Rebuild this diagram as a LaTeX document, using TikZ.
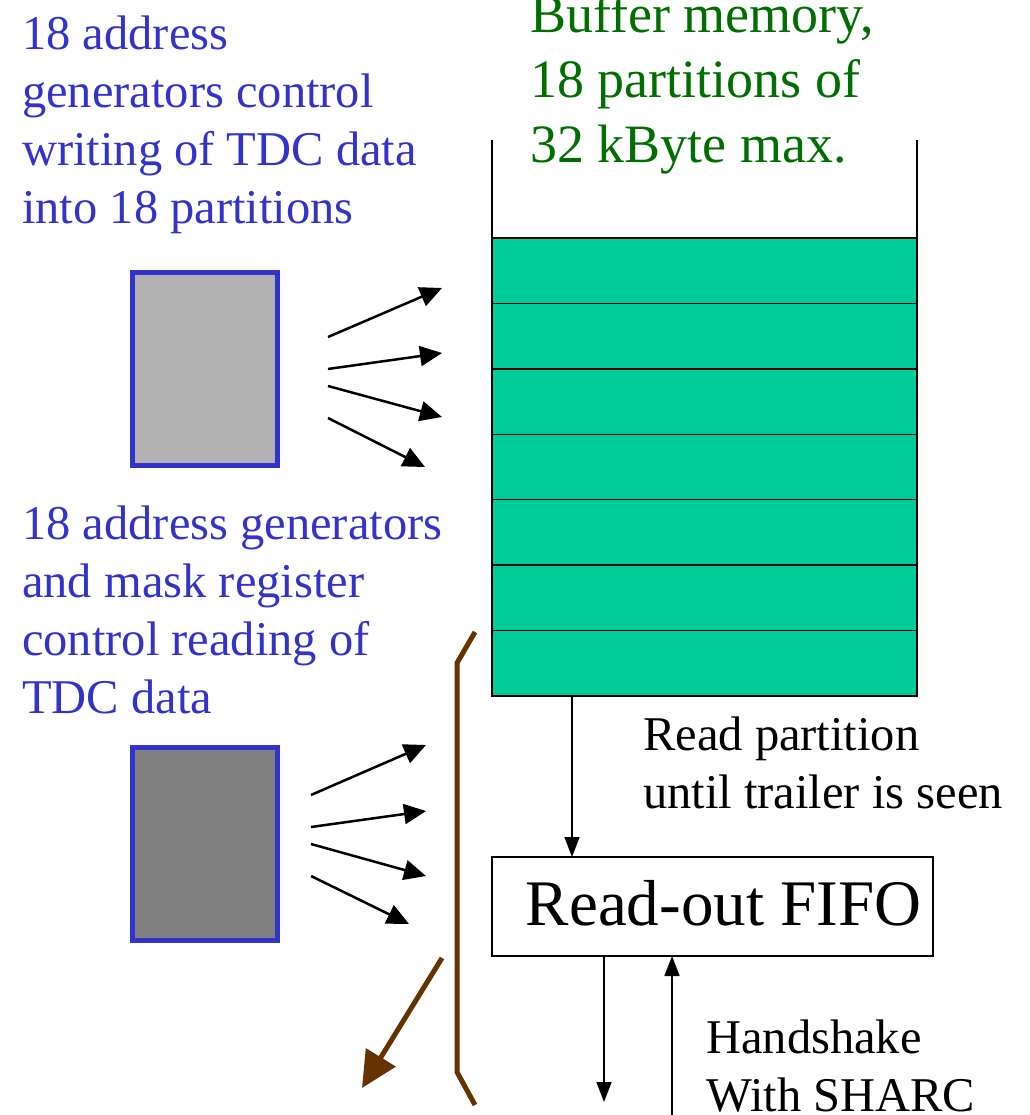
\documentclass[tikz,border=0pt]{standalone}
\usepackage{fontspec}
\setmainfont{Liberation Serif}
\usetikzlibrary{arrows.meta,calc}
\definecolor{labelblue}{RGB}{51,51,204}
\definecolor{memgreen}{RGB}{0,204,153}
\definecolor{titlegreen}{RGB}{0,110,0}
\definecolor{busbrown}{RGB}{102,51,0}
\definecolor{lightgen}{RGB}{178,178,178}
\definecolor{darkgen}{RGB}{128,128,128}
\begin{document}
\begin{tikzpicture}[x=1pt,y=-1pt,
  % multi-line texts are anchored at the baseline of their last line
  bodytext/.style={anchor=base west,inner sep=0pt,align=left,font=\fontsize{48.5}{58}\selectfont},
  genbox/.style={draw=labelblue,line width=5pt,minimum width=145pt,minimum height=193pt,inner sep=0pt,outer sep=0pt,anchor=north west},
  partition/.style={draw=black,line width=1.5pt,fill=memgreen,minimum width=425pt,minimum height=65.43pt,inner sep=0pt,outer sep=0pt,anchor=north west},
  fan/.style={line width=2.5pt,-{Triangle[length=22pt,width=20pt]}},
  flow/.style={line width=1.6pt,-{Triangle[length=20pt,width=15pt]}},
  bus/.style={busbrown,line width=5pt}]
\useasboundingbox (0,0) rectangle (1029,1115);

% text blocks
\node[bodytext,text=labelblue] (wtext) at (22,224) {18 address\\generators control\\writing of TDC data\\into 18 partitions};
\node[bodytext,text=labelblue] (rtext) at (22,713) {18 address generators\\and mask register\\control reading of\\TDC data};
\node[anchor=base west,inner sep=0pt,align=left,text=titlegreen,font=\fontsize{54}{65}\selectfont] (mtext) at (530,163) {Buffer memory,\\18 partitions of\\32 kByte max.};
\node[bodytext] (rptext) at (643,808) {Read partition\\until trailer is seen};
\node[bodytext] (hstext) at (706,1111) {Handshake\\With SHARC};

% address generator blocks
\node[genbox,fill=lightgen] (wgen) at (132.5,272.5) {};
\node[genbox,fill=darkgen] (rgen) at (132.5,747.5) {};

% buffer memory: open container with 7 partitions
\draw[line width=1.5pt] (492,140) -- (492,238);
\draw[line width=1.5pt] (917,140) -- (917,238);
\foreach \i in {1,...,7}{
  \node[partition] (p\i) at (492,{238+(\i-1)*65.43}) {};
}

% read-out FIFO
\node[draw,line width=1.5pt,outer sep=0pt,minimum width=441pt,minimum height=99pt,inner sep=0pt,
      text height=44pt,text depth=7pt,font=\fontsize{65}{78}\selectfont] (fifo) at (712.5,906.5) {\hspace{22pt}Read-out FIFO};

% write address fan
\coordinate (ws1) at (328,337); \coordinate (we1) at (442,288);
\coordinate (ws2) at (328,369); \coordinate (we2) at (442,353);
\coordinate (ws3) at (328,386); \coordinate (we3) at (442,417);
\coordinate (ws4) at (328,418); \coordinate (we4) at (425,467);
\foreach \i in {1,...,4}{ \draw[fan] (ws\i) -- (we\i); }

% read address fan
\coordinate (rs1) at (311,795); \coordinate (re1) at (426,745);
\coordinate (rs2) at (311,827); \coordinate (re2) at (426,811);
\coordinate (rs3) at (311,844); \coordinate (re3) at (426,876);
\coordinate (rs4) at (311,876); \coordinate (re4) at (409,924);
\foreach \i in {1,...,4}{ \draw[fan] (rs\i) -- (re\i); }

% bus bracket and output
\draw[bus,line join=round] (475,632) -- (457,663) -- (457,1072) -- (475,1105);
\coordinate (bs) at (442,958); \coordinate (be) at (362,1088);
\draw[bus,-{Triangle[length=36pt,width=34pt]}] (bs) -- (be);

% data path
\draw[flow] (p7.south west -| 572,0) -- (fifo.north west -| 572,0);
\coordinate (dout) at (604,1102);
\coordinate (hin) at (672,1115);
\draw[flow] (fifo.south west -| 604,0) -- (dout);
\draw[flow] (hin) -- (fifo.south west -| 672,0);
\end{tikzpicture}
\end{document}
